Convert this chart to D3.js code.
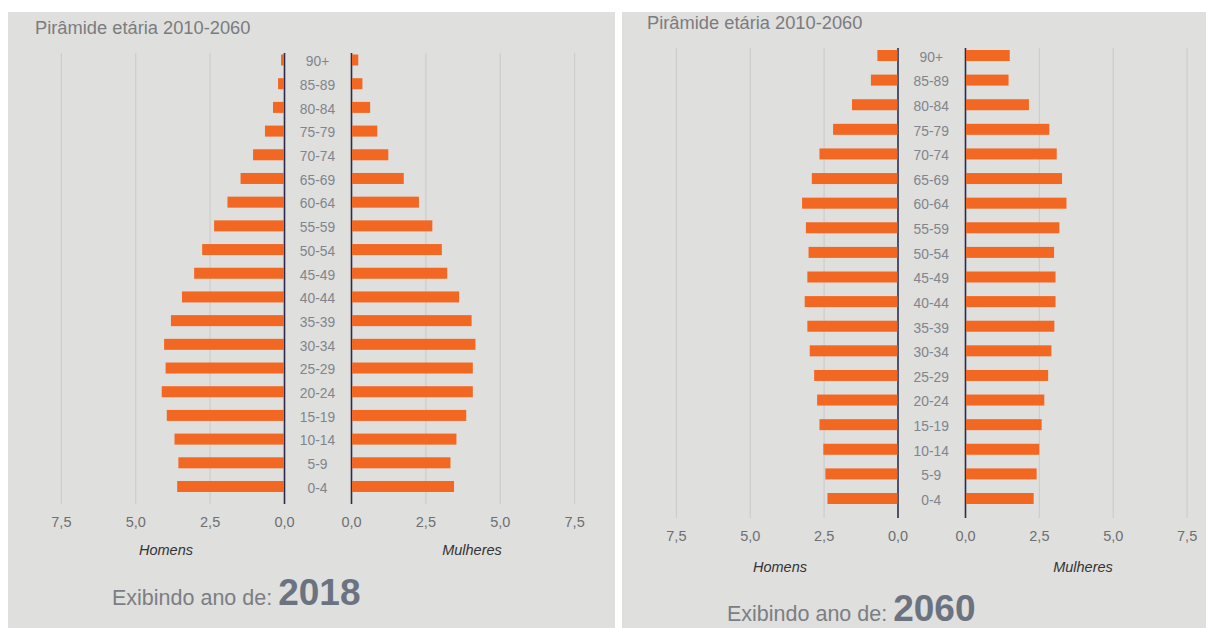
<!DOCTYPE html>
<html>
<head>
<meta charset="utf-8">
<script src="https://cdn.jsdelivr.net/npm/d3@7"></script>
<style>
  body { margin: 0; background: #fff; }
  svg { display: block; font-family: "Liberation Sans", Arial, sans-serif; }
</style>
</head>
<body>
<svg id="chart" width="1206" height="628"></svg>
<script>
// age groups, top to bottom
const ageGroups = ["90+", "85-89", "80-84", "75-79", "70-74", "65-69", "60-64", "55-59",
  "50-54", "45-49", "40-44", "35-39", "30-34", "25-29", "20-24", "15-19", "10-14", "5-9", "0-4"]

// % of population
const men2018 = [0.1, 0.2, 0.37, 0.64, 1.04, 1.46, 1.9, 2.35, 2.75, 3.02, 3.43, 3.8, 4.03,
  3.98, 4.11, 3.94, 3.68, 3.55, 3.59]
const women2018 = [0.21, 0.35, 0.61, 0.85, 1.22, 1.74, 2.25, 2.7, 3.02, 3.2, 3.6, 4.02, 4.15,
  4.06, 4.06, 3.84, 3.51, 3.31, 3.43]
const men2060 = [0.68, 0.9, 1.54, 2.18, 2.64, 2.9, 3.23, 3.1, 3.01, 3.05, 3.14, 3.05, 2.97,
  2.82, 2.72, 2.64, 2.51, 2.44, 2.37]
const women2060 = [1.48, 1.44, 2.13, 2.82, 3.07, 3.25, 3.4, 3.16, 2.98, 3.03, 3.03, 2.99, 2.89,
  2.78, 2.65, 2.56, 2.48, 2.39, 2.29]

const xTicks = [0, 2.5, 5, 7.5]
const xMax = 7.5
const chartTitle = "Pirâmide etária 2010-2060"
const yearLabel = "Exibindo ano de: "

const ptBR = d3.formatLocale({ decimal: ",", thousands: ".", grouping: [3], currency: ["R$", ""] })
const fmt = ptBR.format(".1f")

const svg = d3.select("#chart")

const panels = [
  { year: "2018", men: men2018, women: women2018,
    bg: [8, 12, 607, 616], titleX: 35, titleY: 34,
    axisL: 284, axisR: 351, unit: 29.75, rowTop: 60, rowBottom: 486.5,
    gridTop: 53, gridBottom: 504, footY: 555, homensX: 166, mulheresX: 472,
    exX: 112, exY: 605 },
  { year: "2060", men: men2060, women: women2060,
    bg: [622, 12, 584, 616], titleX: 647, titleY: 29,
    axisL: 897.5, axisR: 965, unit: 29.55, rowTop: 55.5, rowBottom: 498.5,
    gridTop: 48, gridBottom: 518, footY: 572, homensX: 780, mulheresX: 1083,
    exX: 727, exY: 621 }
]

panels.forEach(p => drawPanel(p))

function drawPanel(p) {
  const g = svg.append("g")

  g.append("rect")
    .attr("x", p.bg[0]).attr("y", p.bg[1])
    .attr("width", p.bg[2]).attr("height", p.bg[3])
    .attr("fill", "#dfdfdd")

  g.append("text")
    .attr("x", p.titleX).attr("y", p.titleY)
    .attr("font-size", 18.3)
    .attr("fill", "#7b7c80")
    .text(chartTitle)

  const xL = d3.scaleLinear().domain([0, xMax]).range([p.axisL, p.axisL - xMax * p.unit])
  const xR = d3.scaleLinear().domain([0, xMax]).range([p.axisR, p.axisR + xMax * p.unit])
  const y = d3.scalePoint().domain(ageGroups).range([p.rowTop, p.rowBottom])
  const barH = 11
  const h = p.gridBottom - p.gridTop

  // grid + tick labels
  ;[xL, xR].forEach(x => {
    const ax = g.append("g")
      .attr("transform", `translate(0,${p.gridBottom})`)
      .call(d3.axisBottom(x).tickValues(xTicks).tickSize(-h).tickPadding(13).tickFormat(fmt))
    ax.select(".domain").remove()
    ax.selectAll(".tick line")
      .attr("stroke", d => d === 0 ? "#2c2c4a" : "#cdcdcd")
      .attr("stroke-width", d => d === 0 ? 1.6 : 1.2)
    ax.selectAll(".tick text")
      .attr("font-size", 14.5)
      .attr("font-family", "Liberation Sans, Arial, sans-serif")
      .attr("fill", "#6e6f73")
  })

  const color = "#f26722"

  g.append("g").selectAll("rect")
    .data(p.men)
    .join("rect")
    .attr("x", d => xL(d))
    .attr("y", (d, i) => y(ageGroups[i]) - barH / 2)
    .attr("width", d => xL(0) - xL(d))
    .attr("height", barH)
    .attr("fill", color)

  g.append("g").selectAll("rect")
    .data(p.women)
    .join("rect")
    .attr("x", xR(0) + 1)
    .attr("y", (d, i) => y(ageGroups[i]) - barH / 2)
    .attr("width", d => xR(d) - xR(0))
    .attr("height", barH)
    .attr("fill", color)

  g.append("g").selectAll("text")
    .data(ageGroups)
    .join("text")
    .attr("x", (p.axisL + p.axisR) / 2)
    .attr("y", d => y(d) + 1.5)
    .attr("dy", "0.35em")
    .attr("text-anchor", "middle")
    .attr("font-size", 13.8)
    .attr("fill", "#80858e")
    .text(d => d)

  g.append("text")
    .attr("x", p.homensX).attr("y", p.footY)
    .attr("text-anchor", "middle")
    .attr("font-size", 14.5).attr("font-style", "italic")
    .attr("fill", "#333")
    .text("Homens")

  g.append("text")
    .attr("x", p.mulheresX).attr("y", p.footY)
    .attr("text-anchor", "middle")
    .attr("font-size", 14.5).attr("font-style", "italic")
    .attr("fill", "#333")
    .text("Mulheres")

  const ex = g.append("text")
    .attr("x", p.exX).attr("y", p.exY)
    .attr("font-size", 21.5)
    .attr("fill", "#7b7e84")
  ex.append("tspan").text(yearLabel)
  ex.append("tspan")
    .attr("font-size", 37).attr("font-weight", "bold")
    .attr("fill", "#6b7380")
    .text(p.year)
}
</script>
</body>
</html>
